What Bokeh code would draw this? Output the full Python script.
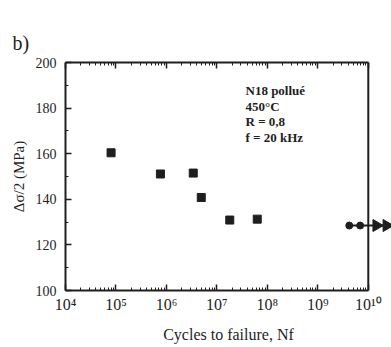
from bokeh.plotting import figure
from bokeh.models import (Range1d, FixedTicker, LogAxis, Span, Label, CustomJSTickFormatter)
from bokeh.embed import file_html
from bokeh.resources import INLINE

# data
cycles = [8.0e4, 7.6e5, 3.4e6, 4.9e6, 1.8e7, 6.3e7]
stress = [160.4, 151.1, 151.5, 140.8, 130.9, 131.3]
runout_cycles = [4.2e9, 6.9e9]
runout_stress = [128.5, 128.5]
arrow_cycles = [1.45e10, 2.3e10]
y_ticks = [100, 120, 140, 160, 180, 200]
y_minor = [110, 130, 150, 170, 190]
decades = [4, 5, 6, 7, 8, 9, 10]
notes = ["N18 pollué", "450°C", "R = 0,8", "f = 20 kHz"]

SERIF = "Liberation Serif"
INK = "#1e1e1e"
FL, FB = 65, 290  # frame left / bottom in page pixels

x_major = [10.0 ** d for d in decades]
x_minor = [k * 10.0 ** d for d in decades[:-1] for k in range(2, 10)]

p = figure(width=391, height=347, output_backend="svg", toolbar_location=None,
           x_axis_type="log", y_axis_type="linear",
           x_range=Range1d(1e4, 10 ** 10.46), y_range=Range1d(100, 200),
           min_border_left=FL, min_border_right=0, min_border_top=62, min_border_bottom=347 - FB,
           title="b)")
p.outline_line_color = None
p.grid.visible = False
p.background_fill_color = "white"
p.border_fill_color = "white"

p.title.text_font = SERIF
p.title.text_font_size = "20px"
p.title.text_font_style = "normal"
p.title.text_color = INK
p.title.offset = 12 - FL
p.title.standoff = 14
p.title.vertical_align = "top"

sup = CustomJSTickFormatter(code="""
const s = {'0':'\u2070','1':'\u00b9','2':'\u00b2','3':'\u00b3','4':'\u2074','5':'\u2075','6':'\u2076','7':'\u2077','8':'\u2078','9':'\u2079'};
const e = String(Math.round(Math.log10(tick)));
let out = '';
for (const c of e) out += s[c];
return '10' + out;
""")

xa = p.xaxis[0]
xa.ticker = FixedTicker(ticks=x_major, minor_ticks=x_minor)
xa.formatter = sup
xa.bounds = (1e4, 1e10)
xa.axis_label = "Cycles to failure, Nf"
xa.axis_label_standoff = 10

ya = p.yaxis[0]
ya.ticker = FixedTicker(ticks=y_ticks, minor_ticks=y_minor)
ya.bounds = (100, 200)
ya.axis_label = "Δσ/2 (MPa)"
ya.axis_label_standoff = 6

top = LogAxis(ticker=FixedTicker(ticks=x_major, minor_ticks=x_minor), bounds=(1e4, 1e10))
top.major_label_text_alpha = 0
top.major_label_text_font_size = "4px"
top.major_label_standoff = 0
p.add_layout(top, "above")

for ax in (xa, ya, top):
    ax.axis_line_width = 2
    ax.axis_line_color = INK
    ax.major_tick_in = 6
    ax.major_tick_out = 0
    ax.minor_tick_in = 3
    ax.minor_tick_out = 0
    ax.major_tick_line_color = INK
    ax.minor_tick_line_color = INK
    ax.major_tick_line_width = 1.5
    ax.major_label_text_font = SERIF
    ax.axis_label_text_font = SERIF
    ax.axis_label_text_font_style = "normal"
    ax.axis_label_text_color = INK

xa.major_label_text_color = INK
ya.major_label_text_color = INK
xa.major_label_text_font_size = "16px"
xa.major_label_standoff = 5
ya.major_label_text_font_size = "14px"
ya.major_label_standoff = 9
xa.axis_label_text_font_size = "16px"
ya.axis_label_text_font_size = "15px"

p.add_layout(Span(location=1e10, dimension="height", line_color=INK, line_width=2))

p.scatter(cycles, stress, marker="square", size=8, color=INK)

p.line([runout_cycles[0], arrow_cycles[-1]], runout_stress[:1] * 2, line_color=INK, line_width=2)
p.scatter(runout_cycles, runout_stress, marker="circle", size=7, color=INK)
p.scatter(arrow_cycles, runout_stress, marker="triangle", size=12, angle=-1.5708, color=INK)

for i, t in enumerate(notes):
    p.add_layout(Label(x=245 - FL, y=FB - (90 + 15.5 * i), x_units="screen", y_units="screen",
                       text=t, text_font=SERIF, text_font_size="13px", text_font_style="bold",
                       text_align="left", text_baseline="middle", text_color=INK))

open("out.html", "w").write(file_html(p, INLINE))
